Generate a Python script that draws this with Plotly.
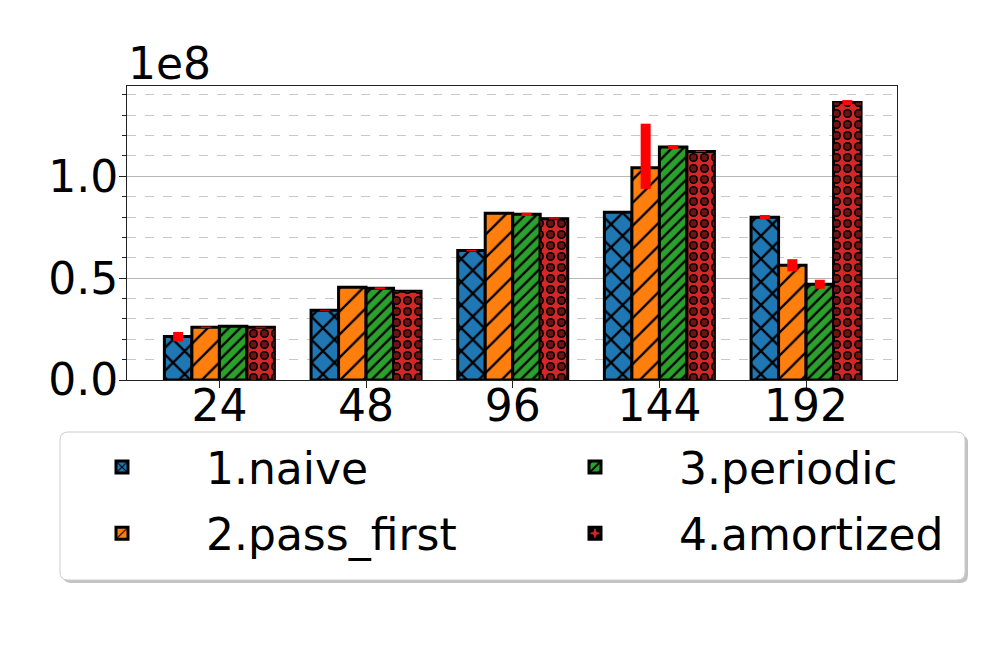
import plotly.graph_objects as go

# values in units of 1e8
cores = ['24', '48', '96', '144', '192']
naive = [0.213, 0.342, 0.635, 0.823, 0.799]
pass_first = [0.259, 0.455, 0.818, 1.042, 0.563]
periodic = [0.264, 0.450, 0.813, 1.143, 0.470]
amortized = [0.259, 0.435, 0.791, 1.122, 1.362]

naive_err_up = [0.023, 0.002, 0.004, 0.0, 0.011]
naive_err_down = [0.023, 0.002, 0.004, 0.0, 0.011]
pass_first_err_up = [0.003, 0.0, 0.0, 0.216, 0.030]
pass_first_err_down = [0.003, 0.0, 0.0, 0.104, 0.030]
periodic_err_up = [0.0, 0.005, 0.008, 0.010, 0.022]
periodic_err_down = [0.0, 0.005, 0.008, 0.010, 0.022]
amortized_err_up = [0.002, 0.0, 0.003, 0.003, 0.012]
amortized_err_down = [0.002, 0.0, 0.003, 0.003, 0.012]

FONT = 'DejaVu Sans'
W = 0.1875

series = [
    ('1.naive', naive, naive_err_up, naive_err_down, '#1f77b4',
     dict(shape='x', size=16.3, solidity=0.26), 'legend'),
    ('2.pass_first', pass_first, pass_first_err_up, pass_first_err_down, '#ff7f0e',
     dict(shape='/', size=16.3, solidity=0.14), 'legend'),
    ('3.periodic', periodic, periodic_err_up, periodic_err_down, '#2ca02c',
     dict(shape='/', size=8.1, solidity=0.28), 'legend2'),
    ('4.amortized', amortized, amortized_err_up, amortized_err_down, '#d62728',
     dict(shape='.', size=11, solidity=0.53), 'legend2'),
]

fig = go.Figure()
for k, (name, vals, up, down, color, pat, leg) in enumerate(series):
    fig.add_trace(go.Bar(
        x=cores, y=vals, name=name, width=W, offset=-0.375 + k * W,
        marker=dict(color=color, line=dict(color='black', width=3),
                    pattern=dict(fgcolor='black', bgcolor=color,
                                 fillmode='replace', **pat)),
        error_y=dict(type='data', symmetric=False, array=up, arrayminus=down,
                     color='red', thickness=10, width=0),
        legend=leg, legendgroup=name,
    ))

# red centres of the rings on the amortized bars
fig.add_trace(go.Bar(
    x=cores, y=amortized, width=W, offset=-0.375 + 3 * W, showlegend=False,
    hoverinfo='skip',
    marker=dict(color='rgba(0,0,0,0)', line=dict(width=0),
                pattern=dict(shape='.', size=11, solidity=0.23,
                             fgcolor='#d62728', fillmode='overlay')),
))


def rounded_box(x0, y0, x1, y1, rx, ry):
    return (f'M{x0 + rx},{y1} L{x1 - rx},{y1} Q{x1},{y1} {x1},{y1 - ry} '
            f'L{x1},{y0 + ry} Q{x1},{y0} {x1 - rx},{y0} L{x0 + rx},{y0} '
            f'Q{x0},{y0} {x0},{y0 + ry} L{x0},{y1 - ry} Q{x0},{y1} {x0 + rx},{y1} Z')


# pixel positions measured relative to the plot area (left 127, bottom 380)
px_w, px_h = 770, 294
def px2paper(px, py):
    return (px - 127) / px_w, (380 - py) / px_h

bx0, by0 = px2paper(60, 580)
bx1, by1 = px2paper(965, 432)
sx, sy = 3 / px_w, 3 / px_h
rx, ry = 8 / px_w, 8 / px_h

fig.add_shape(type='path', xref='paper', yref='paper', layer='below',
              path=rounded_box(bx0 + sx, by0 - sy, bx1 + sx, by1 - sy, rx, ry),
              fillcolor='#9a9a9a', line=dict(width=0), opacity=0.6)
fig.add_shape(type='path', xref='paper', yref='paper', layer='below',
              path=rounded_box(bx0, by0, bx1, by1, rx, ry),
              fillcolor='white', line=dict(color='#cccccc', width=1))

fig.add_annotation(text='1e8', xref='paper', yref='paper', x=0, y=1,
                   xanchor='left', yanchor='bottom', showarrow=False,
                   font=dict(family=FONT, size=44, color='black'), xshift=-1, yshift=-5)

leg_x1, leg_y = px2paper(38, 432)
leg_x2, _ = px2paper(511, 432)
common_leg = dict(orientation='v', xanchor='left', yanchor='top', y=leg_y,
                  bgcolor='rgba(0,0,0,0)', borderwidth=0, itemwidth=158,
                  tracegroupgap=6,
                  font=dict(family=FONT, size=44, color='black'))

fig.update_layout(
    width=1008, height=648,
    margin=dict(l=119, r=119, t=78, b=276),
    paper_bgcolor='white', plot_bgcolor='white',
    barmode='overlay',
    font=dict(family=FONT, size=44, color='black'),
    legend=dict(x=leg_x1, **common_leg),
    legend2=dict(x=leg_x2, **common_leg),
    xaxis=dict(type='category', range=[-0.63, 4.62],
               showline=True, linecolor='#222222', linewidth=1, mirror=True,
               ticks='outside', ticklen=7, tickwidth=1, tickcolor='#222222',
               ticklabelstandoff=-20,
               tickfont=dict(family=FONT, size=44, color='black'),
               showgrid=False),
    yaxis=dict(range=[0, 1.443], dtick=0.5, tick0=0, tickformat='.1f',
               showline=True, linecolor='#222222', linewidth=1, mirror=True,
               ticks='outside', ticklen=7, tickwidth=1, tickcolor='#222222',
               ticklabelstandoff=-8,
               tickfont=dict(family=FONT, size=44, color='black'),
               showgrid=True, gridcolor='#b8b8b8', gridwidth=1, zeroline=False,
               minor=dict(dtick=0.1, tick0=0, ticks='outside', ticklen=4,
                          tickcolor='#222222', showgrid=True,
                          gridcolor='#c8c8c8', griddash='dash', gridwidth=1)),
)

fig.write_html('out.html')
